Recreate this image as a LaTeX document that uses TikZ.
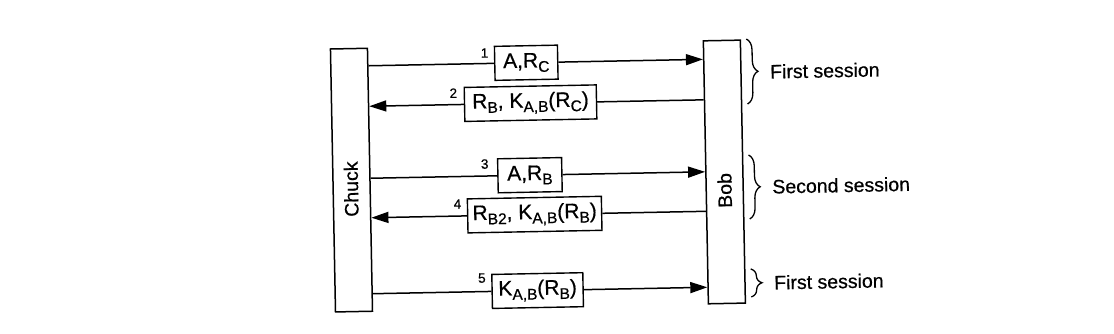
\documentclass[tikz,border=0pt]{standalone}
\usepackage{fontspec}
\setmainfont{Liberation Sans}[FakeBold=0.6,AutoFakeBold=0.6]
\usetikzlibrary{arrows.meta,calc,decorations.pathreplacing}
\newcommand{\lo}[1]{\raisebox{-4.5pt}{\fontsize{15.5}{15.5}\selectfont #1}}
\begin{document}
\begin{tikzpicture}[x=1pt,y=-1pt,
  lane/.style={draw, line width=1.5pt, minimum width=37pt, minimum height=263pt, inner sep=0pt, transform shape},
  msg/.style={draw, line width=1.4pt, minimum height=34pt, inner sep=0pt, font=\fontsize{21}{22}\selectfont\bfseries, transform shape},
  num/.style={font=\fontsize{13.5}{14}\selectfont\bfseries, inner sep=0pt, transform shape},
  who/.style={font=\fontsize{19.5}{20}\selectfont\bfseries, rotate=90, inner sep=0pt, transform shape},
  sess/.style={font=\fontsize{19.5}{20}\selectfont\bfseries, anchor=west, inner sep=0pt, transform shape},
  arr/.style={line width=1.5pt, -{Triangle[length=17pt,width=11pt]}},
  plain/.style={line width=1.5pt},
  br/.style={line width=1.3pt, decorate, decoration={brace, amplitude=11pt}}]
\useasboundingbox (0,0) rectangle (1114,334);
\begin{scope}[rotate around={1.1:(540,180)}]
  % lifelines
  \node[lane] (chuck) at (351.5,176.5) {};
  \node[lane] (bob) at (724.5,175.5) {};
  \node[who] (chucklabel) at (351,185.5) {Chuck};
  \node[who] (boblabel) at (724.5,194) {Bob};
  % messages
  \node[msg, minimum width=63pt] (m1) at (528.5,62.5) {A,R\lo{C}};
  \node[msg, minimum width=132pt] (m2) at (532,103) {R\lo{B}, K\lo{A,B}(R\lo{C})};
  \node[msg, minimum width=64pt] (m3) at (530,175) {A,R\lo{B}};
  \node[msg, minimum width=134pt] (m4) at (534,214.5) {R\lo{B2}, K\lo{A,B}(R\lo{B})};
  \node[msg, minimum width=91pt] (m5) at (535.5,290.5) {K\lo{A,B}(R\lo{B})};
  % numbers
  \node[num] (n1) at (487,52) {1};
  \node[num] (n2) at (455,91.5) {2};
  \node[num] (n3) at (485,163) {3};
  \node[num] (n4) at (457,202.5) {4};
  \node[num] (n5) at (480,277) {5};
  % connectors
  \draw[plain] ($(chuck.north east)!(m1.west)!(chuck.south east)$) -- (m1.west);
  \draw[arr] (m1.east) -- ($(bob.north west)!(m1.east)!(bob.south west)$);
  \draw[plain] ($(bob.north west)!(m2.east)!(bob.south west)$) -- (m2.east);
  \draw[arr] (m2.west) -- ($(chuck.north east)!(m2.west)!(chuck.south east)$);
  \draw[plain] ($(chuck.north east)!(m3.west)!(chuck.south east)$) -- (m3.west);
  \draw[arr] (m3.east) -- ($(bob.north west)!(m3.east)!(bob.south west)$);
  \draw[plain] ($(bob.north west)!(m4.east)!(bob.south west)$) -- (m4.east);
  \draw[arr] (m4.west) -- ($(chuck.north east)!(m4.west)!(chuck.south east)$);
  \draw[plain] ($(chuck.north east)!(m5.west)!(chuck.south east)$) -- (m5.west);
  \draw[arr] (m5.east) -- ($(bob.north west)!(m5.east)!(bob.south west)$);
  % braces and session labels
  \draw[br] (749,43) -- (749,108);
  \draw[br] (749,159) -- (749,223);
  \draw[br] (749,273) -- (749,301);
  \node[sess] (s1) at (772,76) {First session};
  \node[sess] (s2) at (772,191) {Second session};
  \node[sess] (s3) at (772,287) {First session};
\end{scope}
\end{tikzpicture}
\end{document}
